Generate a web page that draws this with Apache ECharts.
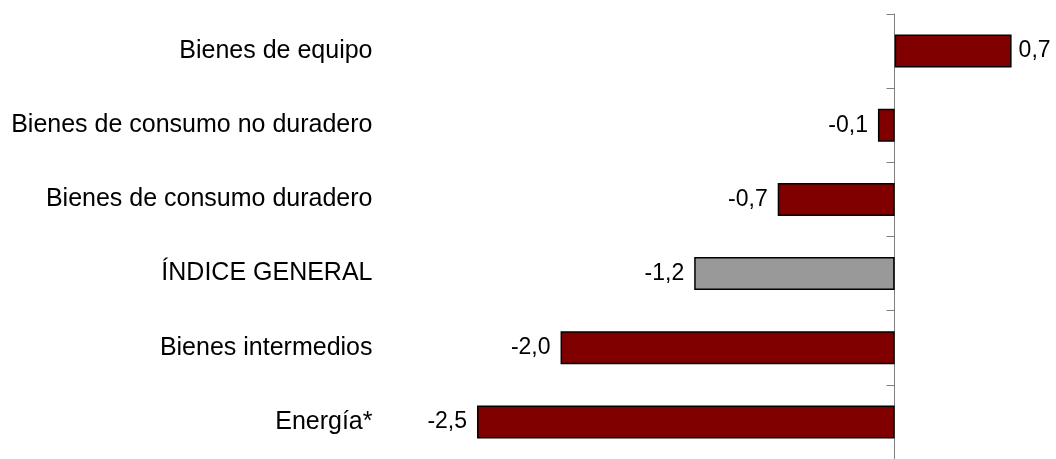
<!DOCTYPE html>
<html>
<head>
<meta charset="utf-8">
<script src="https://cdn.jsdelivr.net/npm/echarts@6/dist/echarts.min.js"></script>
<style>
html,body{margin:0;padding:0;background:#fff;}
#main{width:1056px;height:459px;}
</style>
</head>
<body>
<div id="main"></div>
<script>
var categories = ['Bienes de equipo', 'Bienes de consumo no duradero', 'Bienes de consumo duradero', 'ÍNDICE GENERAL', 'Bienes intermedios', 'Energía*'];
var values = [0.7, -0.1, -0.7, -1.2, -2.0, -2.5];

var myChart = echarts.init(document.getElementById('main'));

var barData = [];
for (var i = 0; i < values.length; i++) {
	barData.push({
		value: values[i],
		itemStyle: { color: categories[i] == 'ÍNDICE GENERAL' ? '#999999' : '#800000' },
		label: { position: values[i] >= 0 ? 'right' : 'left', distance: values[i] >= 0 ? 7 : 10 }
	});
}

var option = {
	animation: false,
	grid: { left: 393.5, right: 11, top: 14, height: 452 },
	xAxis: {
		type: 'value',
		min: -3,
		max: 0.9,
		show: false
	},
	yAxis: [
		{
			type: 'category',
			data: categories,
			inverse: true,
			position: 'left',
			axisLine: { show: false },
			axisTick: { show: false },
			axisLabel: {
				margin: 21,
				color: '#000',
				fontFamily: 'Liberation Sans',
				fontSize: 25
			}
		},
		{
			// the zero line with its ticks
			type: 'category',
			data: categories,
			inverse: true,
			position: 'left',
			offset: -501,
			axisLine: { show: true, onZero: false, lineStyle: { color: '#808080', width: 1 } },
			axisTick: { show: true, length: 8, lineStyle: { color: '#808080' } },
			axisLabel: { show: false }
		}
	],
	series: [
		{
			type: 'bar',
			yAxisIndex: 0,
			data: barData,
			barWidth: 33,
			itemStyle: { borderColor: '#000', borderWidth: 1.5 },
			label: {
				show: true,
				color: '#000',
				fontFamily: 'Liberation Sans',
				fontSize: 23,
				formatter: function (p) {
					return p.value.toFixed(1).replace('.', ',');
				}
			}
		}
	]
};
myChart.setOption(option);
window.addEventListener("resize", function () {
	myChart.resize();
});
</script>
</body>
</html>
